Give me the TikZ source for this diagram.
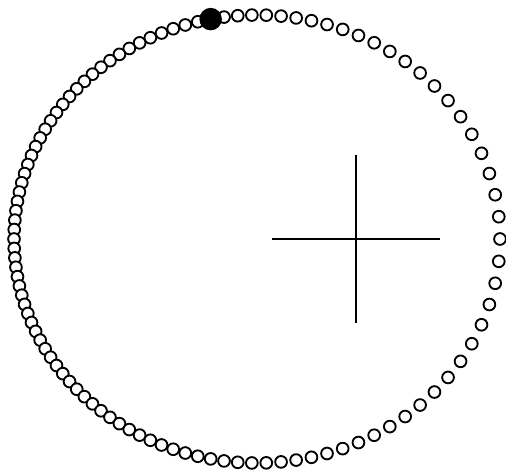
\documentclass[tikz,border=0pt]{standalone}
\usetikzlibrary{calc}
% one fixed-point step of Kepler's equation, E = M + e sin E (degrees)
\newcommand{\keplerstep}{\pgfmathsetmacro{\ecc}{\M+23.3*sin(\ecc)}}
\begin{document}
\begin{tikzpicture}[
      x=0.02cm, y=0.02cm,
      orbdot/.style={draw, circle, line width=1.05pt, minimum size=0.235cm,
        inner sep=0pt, fill=white},
      planet/.style={circle, fill=black, minimum size=0.45cm, inner sep=0pt},
      axisline/.style={line width=0.85pt}
    ]
    \useasboundingbox (0,0) rectangle (506,474);

    % equal time steps along the orbit
    \foreach \k in {0,...,105} {
      \pgfmathsetmacro{\M}{\k/106*360}
      \pgfmathsetmacro{\ecc}{\M}
      \keplerstep\keplerstep\keplerstep\keplerstep\keplerstep
      \keplerstep\keplerstep\keplerstep\keplerstep\keplerstep
      \node[orbdot] (d\k) at ({257+243*cos(\ecc)}, {235+224*sin(\ecc)}) {};
    }
    \node[planet] (p) at ({257+243*cos(101)}, {235+224*sin(101)}) {};

    % the focus
    \coordinate (focus) at (356,235);
    \coordinate (cl) at ($(focus)+(-84,0)$);
    \coordinate (cr) at ($(focus)+(84,0)$);
    \coordinate (ct) at ($(focus)+(0,84)$);
    \coordinate (cb) at ($(focus)+(0,-84)$);
    \draw[axisline] (cl) -- (cr);
    \draw[axisline] (ct) -- (cb);
  \end{tikzpicture}
\end{document}
